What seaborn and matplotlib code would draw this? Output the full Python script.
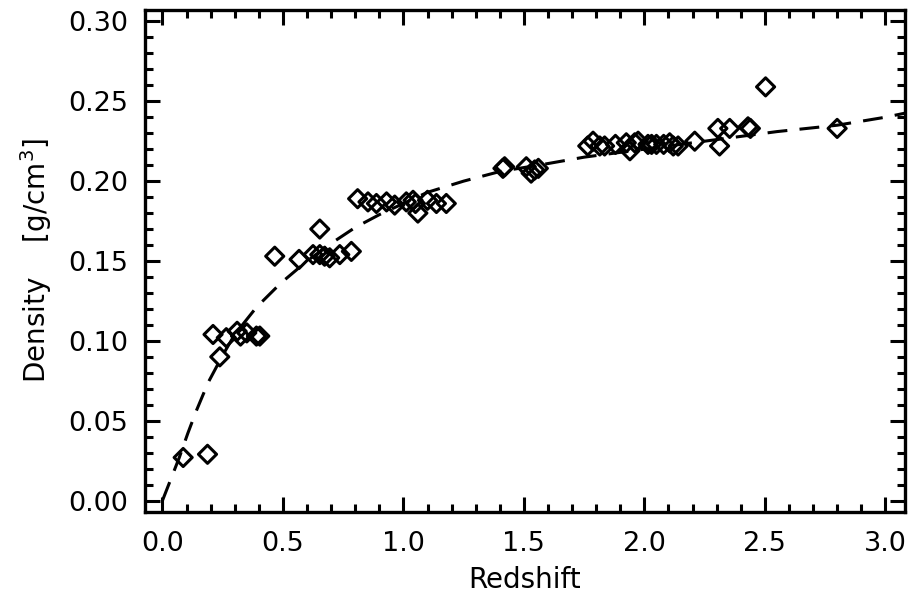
# Density vs redshift, IDL-style plot redone with seaborn
import numpy as np
import pandas as pd
import matplotlib
matplotlib.use('Agg')
import matplotlib.pyplot as plt
from matplotlib.ticker import MultipleLocator, FormatStrFormatter
import seaborn as sns

z_obs = [0.086, 0.187, 0.238, 0.21, 0.265, 0.31, 0.324, 0.35, 0.39, 0.404,
         0.466, 0.567, 0.625, 0.653, 0.653, 0.673, 0.694, 0.736, 0.784,
         0.81, 0.853, 0.888, 0.93, 0.964, 1.012, 1.04, 1.05, 1.06, 1.10, 1.137, 1.178,
         1.413, 1.42, 1.51, 1.53, 1.545, 1.56,
         1.765, 1.787, 1.815, 1.835, 1.88, 1.925, 1.94, 1.96, 1.974, 2.015, 2.03,
         2.05, 2.08, 2.105, 2.12, 2.14, 2.209,
         2.305, 2.312, 2.354, 2.43, 2.44, 2.503, 2.80]
rho_obs = [0.027, 0.029, 0.090, 0.104, 0.102, 0.106, 0.103, 0.105, 0.103, 0.103,
           0.153, 0.151, 0.154, 0.170, 0.154, 0.153, 0.152, 0.154, 0.156,
           0.189, 0.187, 0.186, 0.187, 0.185, 0.187, 0.188, 0.186, 0.180, 0.188, 0.186, 0.186,
           0.208, 0.209, 0.209, 0.205, 0.207, 0.208,
           0.222, 0.225, 0.222, 0.222, 0.223, 0.224, 0.219, 0.224, 0.225, 0.223, 0.223,
           0.223, 0.223, 0.224, 0.222, 0.222, 0.225,
           0.233, 0.222, 0.233, 0.234, 0.233, 0.259, 0.233]

# dashed model curve
z_fit = [0.0, 0.035, 0.07, 0.105, 0.14, 0.19, 0.25, 0.30, 0.39, 0.49, 0.60, 0.70, 0.80,
         0.90, 1.00, 1.10, 1.25, 1.40, 1.60, 1.75, 2.00, 2.25, 2.55, 2.80, 3.00, 3.08]
rho_fit = [0.0, 0.0135, 0.027, 0.042, 0.056, 0.074, 0.091, 0.104, 0.121, 0.136, 0.150,
           0.161, 0.171, 0.179, 0.186, 0.193, 0.200, 0.206, 0.211, 0.215, 0.220, 0.225,
           0.231, 0.235, 0.240, 0.2425]

df_obs = pd.DataFrame({'z': z_obs, 'rho': rho_obs})
df_fit = pd.DataFrame({'z': z_fit, 'rho': rho_fit})

sns.set_style('ticks')
plt.rcParams['font.family'] = ['DejaVu Sans']
plt.rcParams['font.size'] = 20
plt.rcParams['axes.labelcolor'] = 'black'
plt.rcParams['text.color'] = 'black'

fig = plt.figure(figsize=(9.11, 6), dpi=100)
ax = fig.add_axes([0.159, 0.147, 0.834, 0.836])

sns.lineplot(data=df_fit, x='z', y='rho', ax=ax, color='black', lw=2.2,
             dashes=False, estimator=None, sort=False)
ax.lines[0].set_dashes((6.5, 4))
sns.scatterplot(data=df_obs, x='z', y='rho', ax=ax, marker='D', s=85,
                facecolor='none', edgecolor='black', linewidth=2.2, zorder=3)

ax.set_xlim(-0.073, 3.08)
ax.set_ylim(-0.007, 0.307)
ax.xaxis.set_major_locator(MultipleLocator(0.5))
ax.xaxis.set_minor_locator(MultipleLocator(0.1))
ax.yaxis.set_major_locator(MultipleLocator(0.05))
ax.yaxis.set_minor_locator(MultipleLocator(0.01))
ax.xaxis.set_major_formatter(FormatStrFormatter('%.1f'))
ax.yaxis.set_major_formatter(FormatStrFormatter('%.2f'))

ax.tick_params(which='both', direction='in', top=True, right=True, width=2.2,
               colors='black', labelsize=19.5)
ax.tick_params(which='major', length=11)
ax.tick_params(which='minor', length=5.5)
ax.tick_params(axis='x', which='major', pad=14)
ax.tick_params(axis='y', which='major', pad=12)
for sp in ax.spines.values():
    sp.set_visible(True)
    sp.set_linewidth(2.4)
    sp.set_color('black')

ax.set_xlabel('Redshift', fontsize=20, labelpad=6)
ax.set_ylabel('Density    [g/cm$^3$]', fontsize=20, labelpad=10)

plt.savefig('out.png', dpi=100)
